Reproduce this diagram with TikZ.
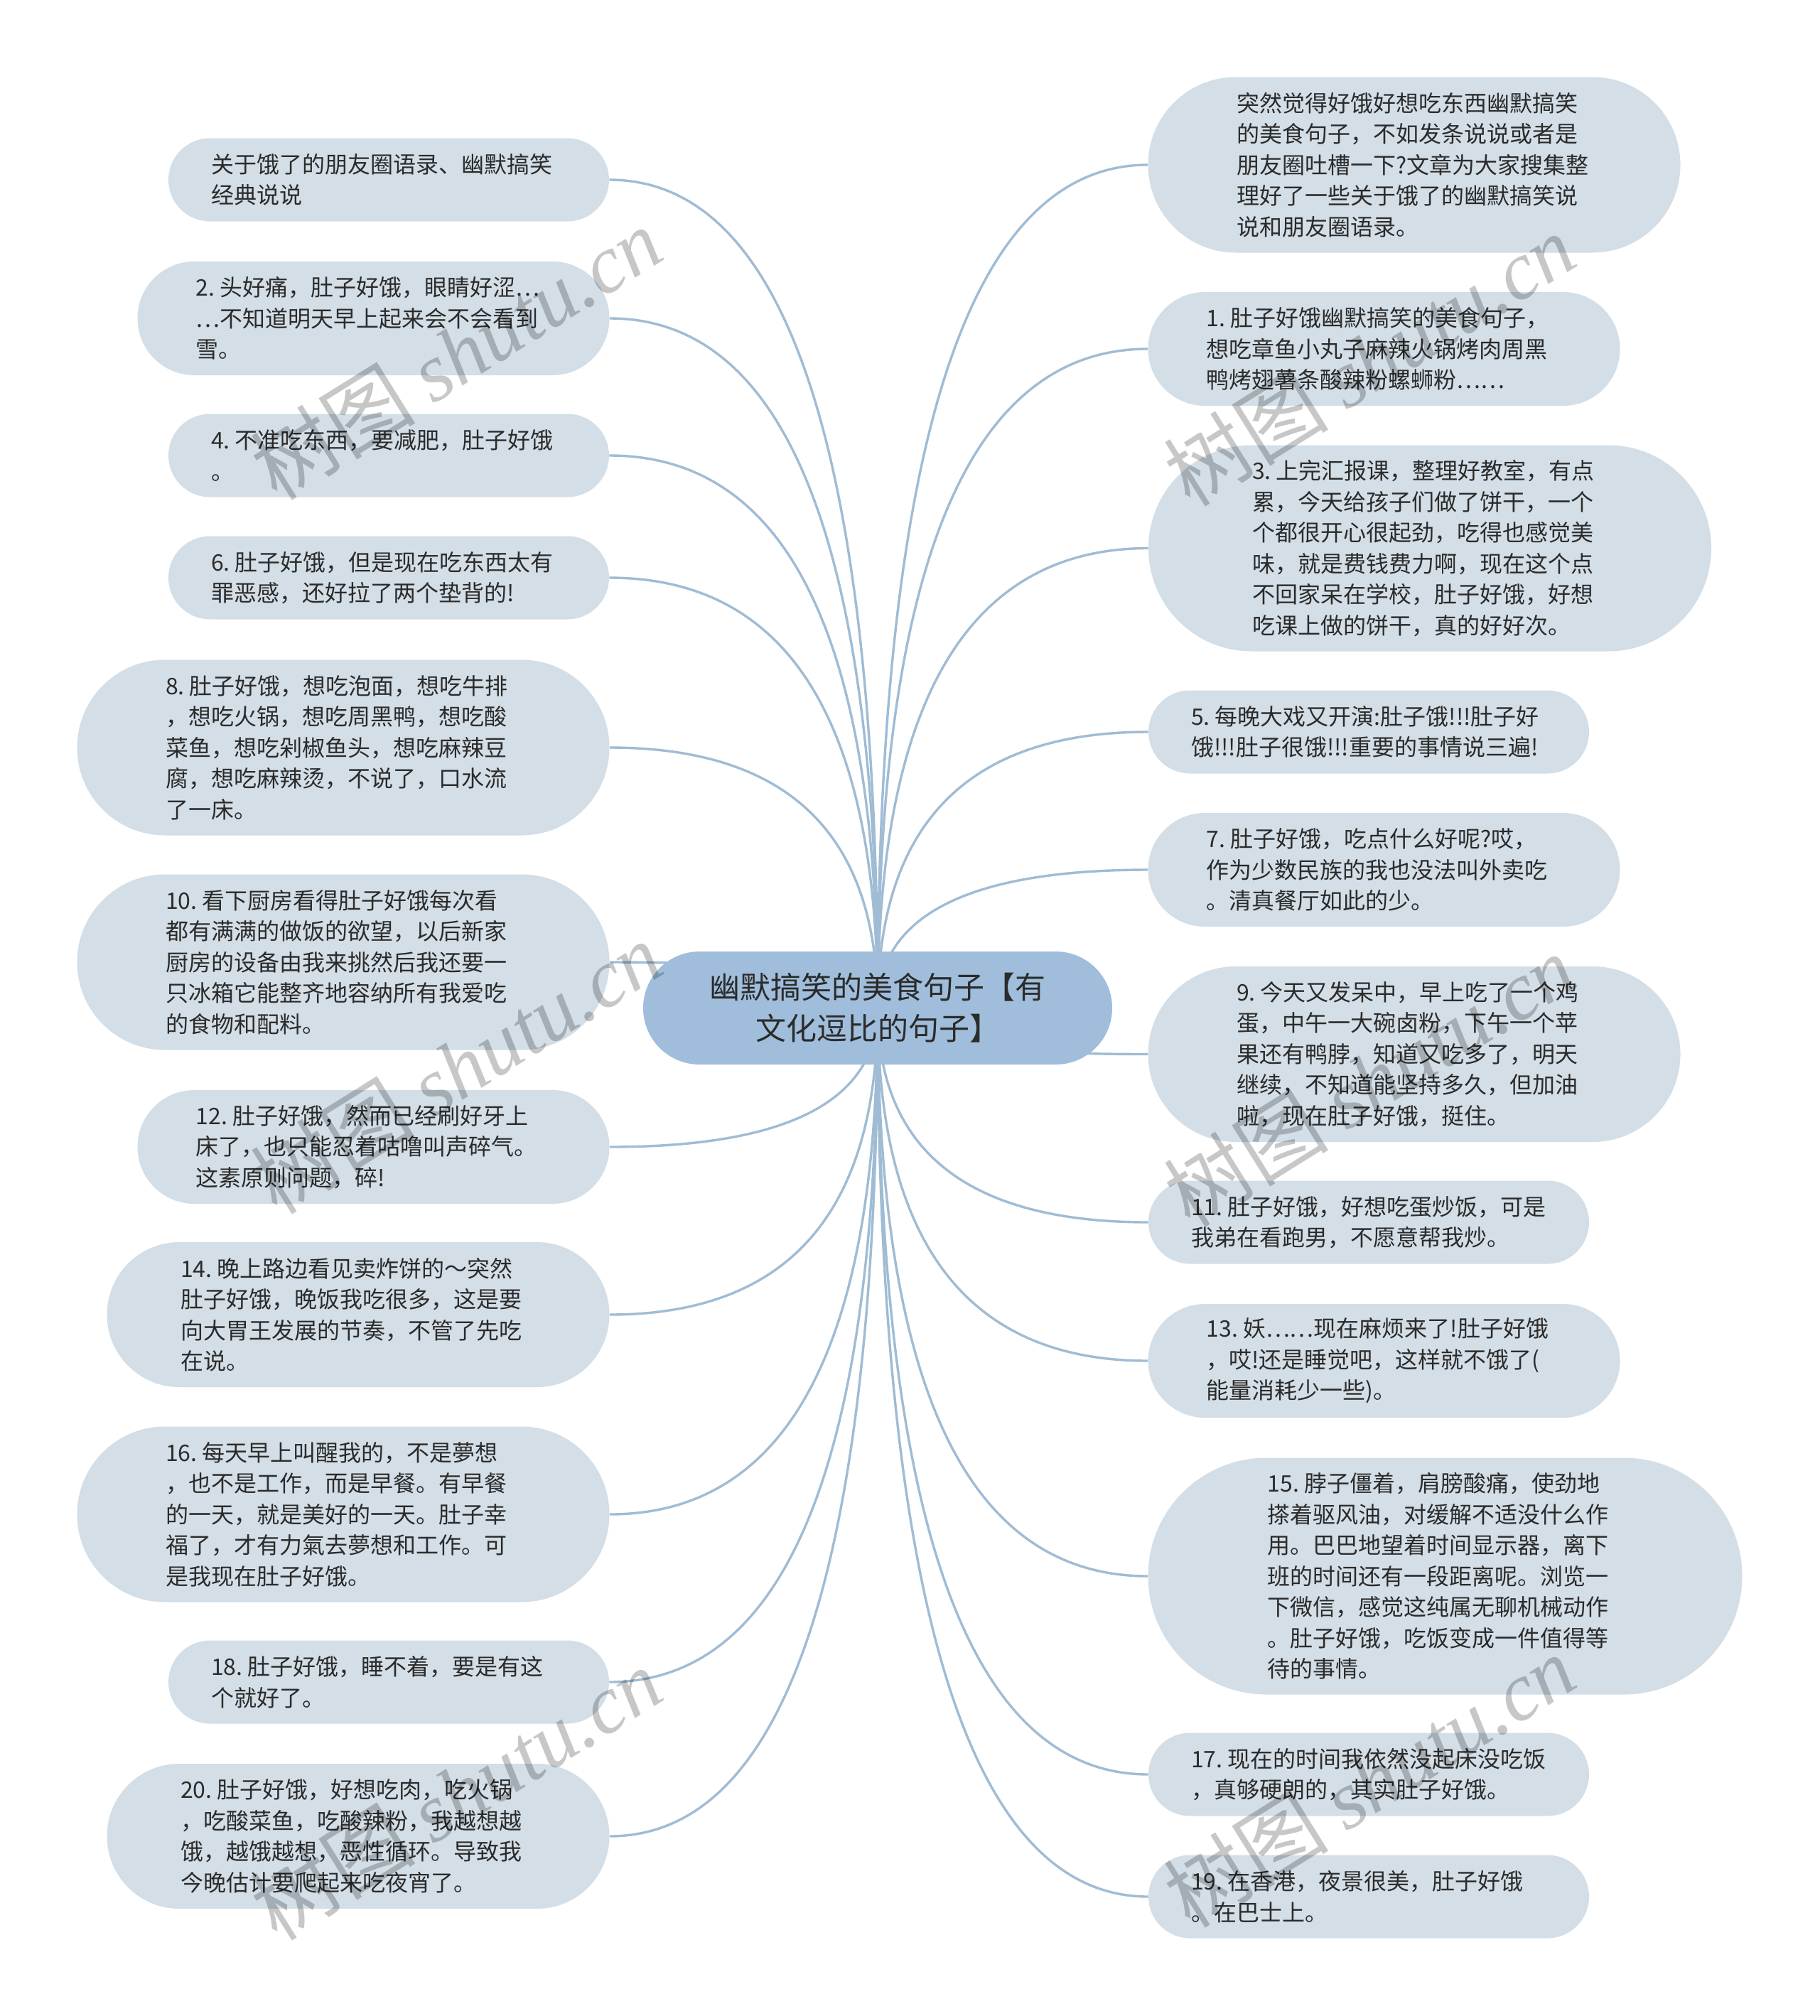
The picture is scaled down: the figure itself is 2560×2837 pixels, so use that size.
\documentclass[tikz,border=0pt]{standalone}
\usepackage{fontspec}
\setmainfont{Noto Sans CJK SC}
\newfontfamily\wmlatin{Liberation Serif}
\usetikzlibrary{calc,backgrounds}
\definecolor{leafbg}{HTML}{D3DEE6}
\definecolor{rootbg}{HTML}{A0BEDB}
\definecolor{linec}{HTML}{A0BCD4}
\definecolor{txt}{HTML}{2B2B2B}
\tikzset{
  leaf/.style={fill=leafbg, text=txt, font=\fontsize{16pt}{21.75pt}\selectfont, align=flush left, text width=250pt, inner sep=0pt},
  lf/.style 2 args={leaf, minimum width=#1*0.5pt, minimum height=#2*0.5pt, rounded corners=#2*0.25pt-0.05pt},
  rootnode/.style={fill=rootbg, text=txt, font=\fontsize{21.5pt}{29pt}\selectfont, align=center, inner sep=0pt,
    minimum width=330pt, minimum height=79.5pt, rounded corners=39.7pt},
  conn/.style={draw=linec, line width=1.7pt},
  wmark/.style={text=black, opacity=0.22, rotate=32, inner sep=0pt, font=\fontsize{58pt}{60pt}\selectfont}
}
\newcommand\mmlinkL[1]{\draw[conn] let \p1=(root.center), \p2=(#1.east) in (\p1) .. controls (\x1,{\y1+2*((\y2)-(\y1))/3}) and ({\x2+2*((\x1)-(\x2))/3},\y2) .. (\p2);}
\newcommand\mmlinkR[1]{\draw[conn] let \p1=(root.center), \p2=(#1.west) in (\p1) .. controls (\x1,{\y1+2*((\y2)-(\y1))/3}) and ({\x2+2*((\x1)-(\x2))/3},\y2) .. (\p2);}
\begin{document}
\begin{tikzpicture}[x=0.5pt,y=-0.5pt]
\useasboundingbox (0,0) rectangle (2560,2837);

\node[rootnode] (root) at (1235,1418.5) {幽默搞笑的美食句子【有\\文化逗比的句子】};

% left
\node[lf={620}{117}] (L1) at (547,253) {关于饿了的朋友圈语录、幽默搞笑\\经典说说};
\node[lf={664}{160}] (L2) at (525.5,448) {2.~头好痛，肚子好饿，眼睛好涩…\\…不知道明天早上起来会不会看到\\雪。};
\node[lf={620}{117}] (L3) at (547,641) {4.~不准吃东西，要减肥，肚子好饿\\。};
\node[lf={620}{117}] (L4) at (547,813) {6.~肚子好饿，但是现在吃东西太有\\罪恶感，还好拉了两个垫背的!};
\node[lf={749}{247}] (L5) at (483,1052) {8.~肚子好饿，想吃泡面，想吃牛排\\，想吃火锅，想吃周黑鸭，想吃酸\\菜鱼，想吃剁椒鱼头，想吃麻辣豆\\腐，想吃麻辣烫，不说了，口水流\\了一床。};
\node[lf={749}{247}] (L6) at (483,1354) {10.~看下厨房看得肚子好饿每次看\\都有满满的做饭的欲望，以后新家\\厨房的设备由我来挑然后我还要一\\只冰箱它能整齐地容纳所有我爱吃\\的食物和配料。};
\node[lf={664}{160}] (L7) at (525.5,1614) {12.~肚子好饿，然而已经刷好牙上\\床了，也只能忍着咕噜叫声碎气。\\这素原则问题，碎!};
\node[lf={707}{204}] (L8) at (504,1850) {14.~晚上路边看见卖炸饼的～突然\\肚子好饿，晚饭我吃很多，这是要\\向大胃王发展的节奏，不管了先吃\\在说。};
\node[lf={749}{247}] (L9) at (483,2131) {16.~每天早上叫醒我的，不是夢想\\，也不是工作，而是早餐。有早餐\\的一天，就是美好的一天。肚子幸\\福了，才有力氣去夢想和工作。可\\是我现在肚子好饿。};
\node[lf={620}{117}] (L10) at (547,2367) {18.~肚子好饿，睡不着，要是有这\\个就好了。};
\node[lf={707}{204}] (L11) at (504,2584) {20.~肚子好饿，好想吃肉，吃火锅\\，吃酸菜鱼，吃酸辣粉，我越想越\\饿，越饿越想，恶性循环。导致我\\今晚估计要爬起来吃夜宵了。};

% right
\node[lf={749}{247}] (R1) at (1990,232) {突然觉得好饿好想吃东西幽默搞笑\\的美食句子，不如发条说说或者是\\朋友圈吐槽一下?文章为大家搜集整\\理好了一些关于饿了的幽默搞笑说\\说和朋友圈语录。};
\node[lf={664}{160}] (R2) at (1947.5,491) {1.~肚子好饿幽默搞笑的美食句子，\\想吃章鱼小丸子麻辣火锅烤肉周黑\\鸭烤翅薯条酸辣粉螺蛳粉……};
\node[lf={792}{290}] (R3) at (2012,771.5) {3.~上完汇报课，整理好教室，有点\\累，今天给孩子们做了饼干，一个\\个都很开心很起劲，吃得也感觉美\\味，就是费钱费力啊，现在这个点\\不回家呆在学校，肚子好饿，好想\\吃课上做的饼干，真的好好次。};
\node[lf={620}{117}] (R4) at (1926,1030) {5.~每晚大戏又开演:肚子饿!!!肚子好\\饿!!!肚子很饿!!!重要的事情说三遍!};
\node[lf={664}{160}] (R5) at (1947.5,1224) {7.~肚子好饿，吃点什么好呢?哎，\\作为少数民族的我也没法叫外卖吃\\。清真餐厅如此的少。};
\node[lf={749}{247}] (R6) at (1990,1483.5) {9.~今天又发呆中，早上吃了一个鸡\\蛋，中午一大碗卤粉，下午一个苹\\果还有鸭脖，知道又吃多了，明天\\继续，不知道能坚持多久，但加油\\啦，现在肚子好饿，挺住。};
\node[lf={620}{117}] (R7) at (1926,1720) {11.~肚子好饿，好想吃蛋炒饭，可是\\我弟在看跑男，不愿意帮我炒。};
\node[lf={664}{160}] (R8) at (1947.5,1915) {13.~妖……现在麻烦来了!肚子好饿\\，哎!还是睡觉吧，这样就不饿了(\\能量消耗少一些)。};
\node[lf={836}{333}] (R9) at (2033.5,2218) {15.~脖子僵着，肩膀酸痛，使劲地\\搽着驱风油，对缓解不适没什么作\\用。巴巴地望着时间显示器，离下\\班的时间还有一段距离呢。浏览一\\下微信，感觉这纯属无聊机械动作\\。肚子好饿，吃饭变成一件值得等\\待的事情。};
\node[lf={620}{117}] (R10) at (1926,2497) {17.~现在的时间我依然没起床没吃饭\\，真够硬朗的，其实肚子好饿。};
\node[lf={620}{117}] (R11) at (1926,2669) {19.~在香港，夜景很美，肚子好饿\\。在巴士上。};

\begin{scope}[on background layer]
  \fill[white] (0,0) rectangle (2560,2837);
  \mmlinkL{L1}\mmlinkL{L2}\mmlinkL{L3}\mmlinkL{L4}\mmlinkL{L5}\mmlinkL{L6}
  \mmlinkL{L7}\mmlinkL{L8}\mmlinkL{L9}\mmlinkL{L10}\mmlinkL{L11}
  \mmlinkR{R1}\mmlinkR{R2}\mmlinkR{R3}\mmlinkR{R4}\mmlinkR{R5}\mmlinkR{R6}
  \mmlinkR{R7}\mmlinkR{R8}\mmlinkR{R9}\mmlinkR{R10}\mmlinkR{R11}
\end{scope}

% watermarks
\node[wmark] (wm1) at (642,497) {树图 {\wmlatin\itshape shutu.cn}};
\node[wmark] (wm2) at (1927,506) {树图 {\wmlatin\itshape shutu.cn}};
\node[wmark] (wm3) at (642,1502) {树图 {\wmlatin\itshape shutu.cn}};
\node[wmark] (wm4) at (1927,1520) {树图 {\wmlatin\itshape shutu.cn}};
\node[wmark] (wm5) at (642,2524) {树图 {\wmlatin\itshape shutu.cn}};
\node[wmark] (wm6) at (1927,2506) {树图 {\wmlatin\itshape shutu.cn}};
\end{tikzpicture}
\end{document}
